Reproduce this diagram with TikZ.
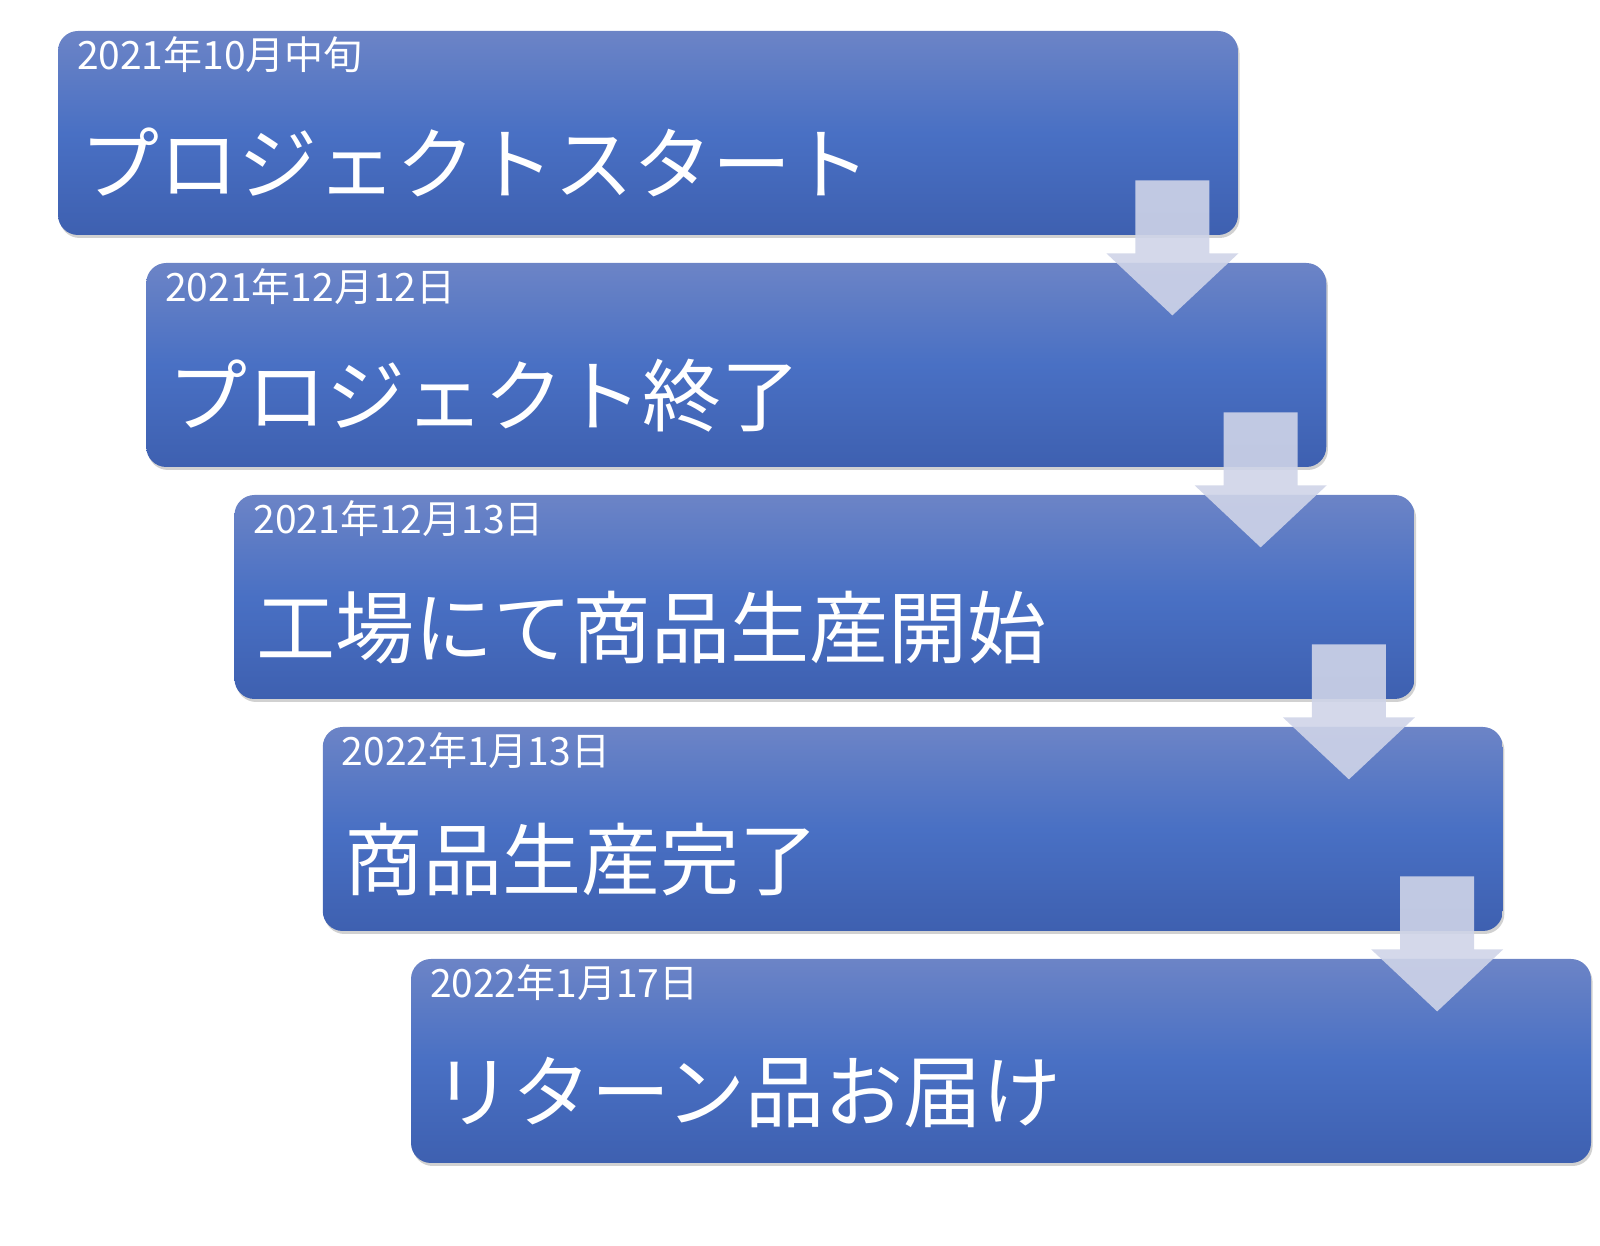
\documentclass[tikz,border=0pt]{standalone}
\usepackage{fontspec}
\setmainfont{Noto Sans CJK JP}
\usetikzlibrary{shadows}
\usetikzlibrary{positioning}

\definecolor{boxtop}{RGB}{108,132,198}
\definecolor{boxmid}{RGB}{73,112,196}
\definecolor{boxbot}{RGB}{62,96,176}
\definecolor{arrowfill}{RGB}{207,212,232}

\tikzset{
  stepbox/.style={rectangle, rounded corners=10pt, minimum width=590pt, minimum height=102pt,
    top color=boxtop, bottom color=boxbot, middle color=boxmid,
    drop shadow={shadow xshift=0.8pt, shadow yshift=-1.5pt, opacity=0.18, fill=black}},
  datetext/.style={anchor=base west, inner sep=0pt, text=white, font=\fontsize{19.5}{20}\selectfont},
  maintext/.style={anchor=base west, inner sep=0pt, text=white, font=\fontsize{39.5}{40}\selectfont},
  flowarrow/.style={fill=arrowfill, fill opacity=0.9, draw=none}
}

\begin{document}
\begin{tikzpicture}[x=0.5pt,y=0.5pt]
  \useasboundingbox (0,0) rectangle (1600,1246);
  % steps
  \foreach \d/\t [count=\i] in {2021年10月中旬/プロジェクトスタート,
                                2021年12月12日/プロジェクト終了,
                                2021年12月13日/工場にて商品生産開始,
                                2022年1月13日/商品生産完了,
                                2022年1月17日/リターン品お届け} {
    \node [stepbox] (b\i) at ({648+88.25*(\i-1)},{1113-232*(\i-1)}) {};
    \node [datetext] (d\i) at ([shift={(19,-39)}]b\i.north west) {\d};
    \node [maintext] (m\i) at ([shift={(22,-163)}]b\i.north west) {\t};
  }
  % arrows
  \foreach \i in {1,...,4}
    \path [flowarrow] (b\i.south east) ++(-103,55) -- ++(74,0) -- ++(0,-73) -- ++(29,0)
      -- ++(-66,-62) -- ++(-66,62) -- ++(29,0) -- cycle;
\end{tikzpicture}
\end{document}
